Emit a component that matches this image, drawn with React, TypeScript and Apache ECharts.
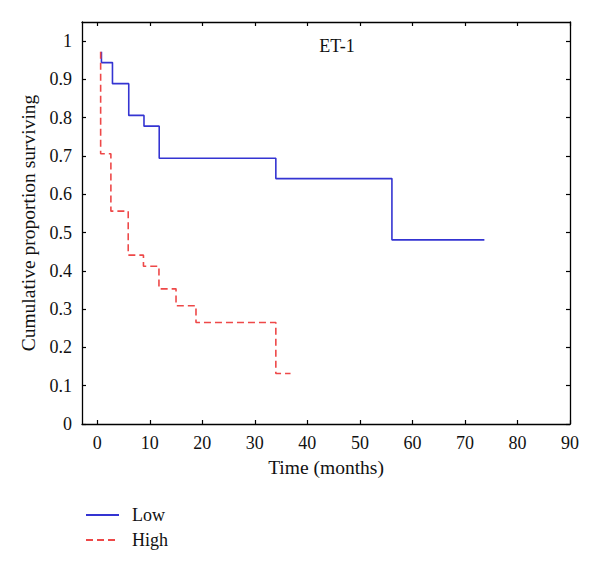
import React, { useEffect, useRef } from "react";
import * as echarts from "echarts";

const lowTimes = [0.8, 0.8, 2.9, 6.0, 8.9, 11.8, 34.0, 56.1, 73.7];
const lowSurvival = [0.972, 0.944, 0.889, 0.806, 0.778, 0.694, 0.641, 0.481, 0.481];

const highTimes = [0.65, 0.65, 2.6, 5.9, 8.8, 11.75, 15.0, 18.8, 34.0, 36.8];
const highSurvival = [0.972, 0.706, 0.556, 0.441, 0.412, 0.353, 0.309, 0.265, 0.132, 0.132];

const xTicks = [0, 10, 20, 30, 40, 50, 60, 70, 80, 90];
const yTicks = [0, 0.1, 0.2, 0.3, 0.4, 0.5, 0.6, 0.7, 0.8, 0.9, 1];

const FONT = "Liberation Serif";

export default function App() {
  const ref = useRef<HTMLDivElement>(null);
  useEffect(() => {
    if (!ref.current) return;
    const chart = echarts.init(ref.current, undefined, { renderer: "svg" });
    const axisLine = { show: true, onZero: false, lineStyle: { color: "#000", width: 1.3 } };
    const tickIn = { show: true, inside: true, length: 4, lineStyle: { color: "#000", width: 1.2 } };
    chart.setOption({
      animation: false,
      backgroundColor: "#fff",
      textStyle: { fontFamily: FONT },
      grid: { left: 82, right: 30, top: 22, bottom: 146, containLabel: false },
      graphic: [
        {
          type: "text",
          x: 337,
          y: 46,
          style: { text: "ET-1", font: `18px '${FONT}'`, fill: "#111", align: "center", verticalAlign: "middle" },
        },
      ],
      legend: {
        orient: "vertical",
        left: 85,
        top: 506,
        padding: 0,
        itemWidth: 33,
        itemHeight: 14,
        itemGap: 7,
        itemStyle: { opacity: 0 },
        textStyle: { fontFamily: FONT, fontSize: 18, color: "#111", padding: [0, 0, 0, 8] },
        data: ["Low", "High"],
      },
      xAxis: [
        {
          type: "value",
          min: -2.9,
          max: 90,
          name: "Time (months)",
          nameLocation: "middle",
          nameGap: 33,
          nameTextStyle: { fontFamily: FONT, fontSize: 19.5, color: "#111" },
          axisLine,
          axisTick: { ...tickIn, customValues: xTicks },
          axisLabel: { customValues: xTicks, fontFamily: FONT, fontSize: 18, color: "#111", margin: 10 },
          splitLine: { show: false },
        },
        {
          type: "value",
          position: "top",
          min: -2.9,
          max: 90,
          axisLine,
          axisTick: { ...tickIn, customValues: xTicks },
          axisLabel: { show: false },
          splitLine: { show: false },
        },
      ],
      yAxis: [
        {
          type: "value",
          min: 0,
          max: 1.05,
          name: "Cumulative proportion surviving",
          nameLocation: "middle",
          nameGap: 38,
          nameTextStyle: { fontFamily: FONT, fontSize: 19.5, color: "#111" },
          axisLine,
          axisTick: { ...tickIn, customValues: yTicks },
          axisLabel: {
            customValues: yTicks,
            fontFamily: FONT,
            fontSize: 18,
            color: "#111",
            margin: 10,
            formatter: (v: number) => String(Math.round(v * 10) / 10),
          },
          splitLine: { show: false },
        },
        {
          type: "value",
          position: "right",
          min: 0,
          max: 1.05,
          axisLine,
          axisTick: { ...tickIn, customValues: yTicks },
          axisLabel: { show: false },
          splitLine: { show: false },
        },
      ],
      series: [
        {
          name: "Low",
          type: "line",
          step: "end",
          symbol: "none",
          data: lowTimes.map((t, i) => [t, lowSurvival[i]]),
          lineStyle: { color: "#3434d2", width: 1.6 },
          itemStyle: { color: "#3434d2" },
        },
        {
          name: "High",
          type: "line",
          step: "end",
          symbol: "none",
          data: highTimes.map((t, i) => [t, highSurvival[i]]),
          lineStyle: { color: "#ee4848", width: 1.6, type: [7, 4] },
          itemStyle: { color: "#ee4848" },
        },
      ],
    });
    return () => chart.dispose();
  }, []);
  return <div ref={ref} style={{ position: "absolute", left: 0, top: 0, width: 600, height: 570 }} />;
}
